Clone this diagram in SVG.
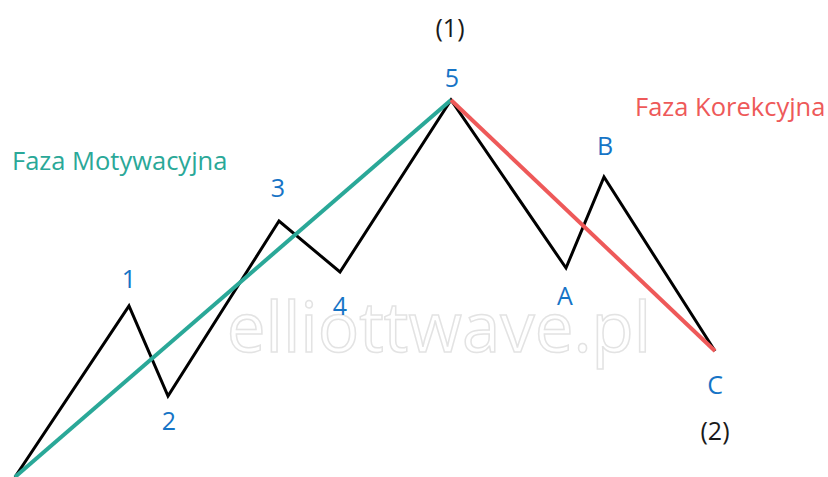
<svg xmlns="http://www.w3.org/2000/svg" width="828" height="477" viewBox="0 0 828 477">
<style>
.lbl{font-family:"Open Sans","Noto Sans",sans-serif;font-size:25px;fill:#1674c6;text-anchor:middle}
.par{font-family:"Open Sans","Noto Sans",sans-serif;font-size:25px;fill:#1a1a1a;text-anchor:middle}
.phase{font-family:"Open Sans","Noto Sans",sans-serif;font-size:25.5px}
.wm{font-family:"Open Sans","Noto Sans",sans-serif;font-size:69px;fill:#ffffff;stroke:#e3e3e3;stroke-width:1.5}
</style>
<rect width="828" height="477" fill="#ffffff"/>
<text class="wm" x="439" y="352" text-anchor="middle">elliottwave.pl</text>
<g id="connectors" fill="none" stroke-linejoin="miter">
<polyline points="15,477 129,306 168,396 279,221 340,272 451,100 566,268 604,177 715,351" stroke="#000" stroke-width="3"/>
<line x1="15" y1="477" x2="451" y2="100" stroke="#2aa898" stroke-width="4"/>
<line x1="451" y1="100" x2="715" y2="351" stroke="#ee5959" stroke-width="4"/>
</g>
<g id="n1"><text class="lbl" x="129" y="288">1</text></g>
<g id="n2"><text class="lbl" x="169" y="430">2</text></g>
<g id="n3"><text class="lbl" x="278" y="197">3</text></g>
<g id="n4"><text class="lbl" x="340" y="315">4</text></g>
<g id="n5"><text class="lbl" x="452" y="87">5</text></g>
<g id="nA"><text class="lbl" x="565" y="305">A</text></g>
<g id="nB"><text class="lbl" x="605" y="155">B</text></g>
<g id="nC"><text class="lbl" x="715" y="394">C</text></g>
<g id="p1"><text class="par" x="450" y="37">(1)</text></g>
<g id="p2"><text class="par" x="715" y="440">(2)</text></g>
<g id="mot"><text class="phase" x="12" y="170" fill="#2aa898">Faza Motywacyjna</text></g>
<g id="kor"><text class="phase" x="635" y="116" fill="#ee5959">Faza Korekcyjna</text></g>
</svg>
